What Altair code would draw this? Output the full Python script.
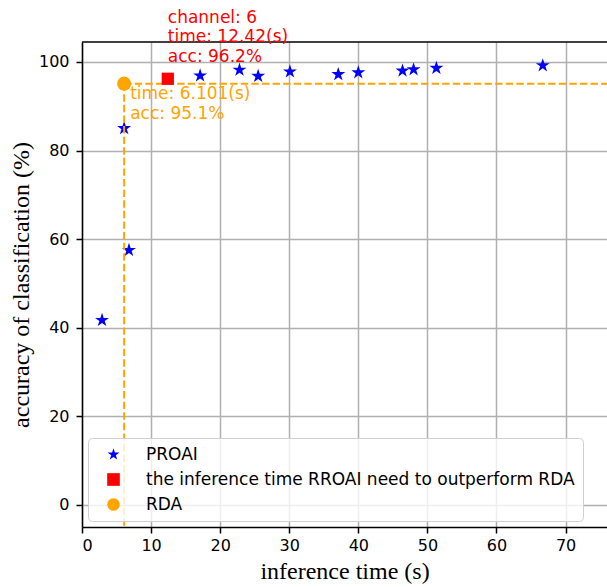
import altair as alt
import pandas as pd

# ---- data ----
series_names = ["PROAI", "the inference time RROAI need to outperform RDA", "RDA"]

proai_time = [2.9, 6.1, 6.8, 17.1, 22.8, 25.5, 30.1, 37.1, 40.0, 46.4, 48.0, 51.3, 66.7]
proai_acc = [41.7, 85.0, 57.5, 96.9, 98.2, 96.8, 97.8, 97.2, 97.6, 98.0, 98.3, 98.6, 99.2]

rroai_time = [12.42]
rroai_acc = [96.2]

rda_time = [6.101]
rda_acc = [95.1]

red_lines = ["channel: 6", "time: 12.42(s)", "acc: 96.2%"]
orange_lines = ["time: 6.101(s)", "acc: 95.1%"]

x_ticks = [0, 10, 20, 30, 40, 50, 60, 70]
y_ticks = [0, 20, 40, 60, 80, 100]

STAR = ("M0,-1L0.2245,-0.309L0.9511,-0.309L0.3633,0.118L0.5878,0.809L0,0.382"
        "L-0.5878,0.809L-0.3633,0.118L-0.9511,-0.309L-0.2245,-0.309Z")
colors = ["#0000ff", "#ff0000", "#ffa500"]
shapes = [STAR, "square", "circle"]
sizes = [215, 150, 200]

W, H = 525, 485
x_dom = [0, 76]
y_dom = [-5, 104.5]

proai = pd.DataFrame({"time": proai_time, "acc": proai_acc, "series": series_names[0]})
rroai = pd.DataFrame({"time": rroai_time, "acc": rroai_acc, "series": series_names[1]})
rda = pd.DataFrame({"time": rda_time, "acc": rda_acc, "series": series_names[2]})

x_enc = alt.X("time:Q", scale=alt.Scale(domain=x_dom, nice=False, zero=False),
              axis=alt.Axis(values=x_ticks, title="inference time (s)", titlePadding=6,
                            labelPadding=4))
y_enc = alt.Y("acc:Q", scale=alt.Scale(domain=y_dom, nice=False, zero=False),
              axis=alt.Axis(values=y_ticks, title="accuracy of classification (%)",
                            titlePadding=5, labelPadding=7))

legend = alt.Legend(title=None, orient="bottom-left", offset=6,
                    padding=8, symbolSize=160, symbolOffset=9, labelOffset=24,
                    labelFontSize=17, labelFont="DejaVu Sans", labelColor="#000000",
                    rowPadding=7, strokeColor="#d0d0d0", fillColor="#ffffffcc",
                    cornerRadius=4, labelLimit=700)

color_enc = alt.Color("series:N", scale=alt.Scale(domain=series_names, range=colors), legend=legend)
shape_enc = alt.Shape("series:N", scale=alt.Scale(domain=series_names, range=shapes), legend=legend)


def points(df, size):
    return alt.Chart(df).mark_point(filled=True, opacity=1, size=size).encode(
        x=x_enc, y=y_enc, color=color_enc, shape=shape_enc)


dash = [7.4, 3.2]
vline = alt.Chart(rda).mark_rule(color="#ffa500", strokeWidth=2, strokeDash=dash).encode(
    x=x_enc, y=y_enc, y2=alt.value(H))
hline = alt.Chart(rda).mark_rule(color="#ffa500", strokeWidth=2, strokeDash=dash).encode(
    x=x_enc, x2=alt.value(W), y=y_enc)

top_border = alt.Chart(rda).mark_rule(color="black", strokeWidth=1.5).encode(
    x=alt.value(0), x2=alt.value(W), y=alt.value(0))

texts = []
red_dy = [-56, -37, -17]
for line, dy in zip(red_lines, red_dy):
    texts.append(alt.Chart(rroai).mark_text(
        text=line, color="#ff0000", fontSize=17, font="DejaVu Sans",
        align="left", baseline="alphabetic", dx=0, dy=dy).encode(x=x_enc, y=y_enc))
orange_dy = [15.5, 35.5]
for line, dy in zip(orange_lines, orange_dy):
    texts.append(alt.Chart(rda).mark_text(
        text=line, color="#ffa500", fontSize=17, font="DejaVu Sans",
        align="left", baseline="alphabetic", dx=6, dy=dy).encode(x=x_enc, y=y_enc))

chart = alt.layer(
    points(proai, sizes[0]), vline, hline, points(rroai, sizes[1]), points(rda, sizes[2]),
    top_border, *texts
).properties(
    width=W, height=H,
    background="white",
    autosize=alt.AutoSizeParams(type="none"),
    padding={"left": 82, "top": 42, "right": 0, "bottom": 60},
).configure_view(stroke=None).configure_axis(
    grid=True, gridColor="#b0b0b0", gridWidth=1.5,
    domainColor="#000000", domainWidth=1.5,
    tickColor="#000000", tickSize=6, tickWidth=1.5,
    labelFont="DejaVu Sans", labelFontSize=16, labelColor="#000000",
    titleFont="Liberation Serif", titleFontSize=24, titleFontWeight="normal",
    titleColor="#000000", zindex=1,
)

chart.save("out.html", embed_options={"renderer": "svg", "actions": False})
